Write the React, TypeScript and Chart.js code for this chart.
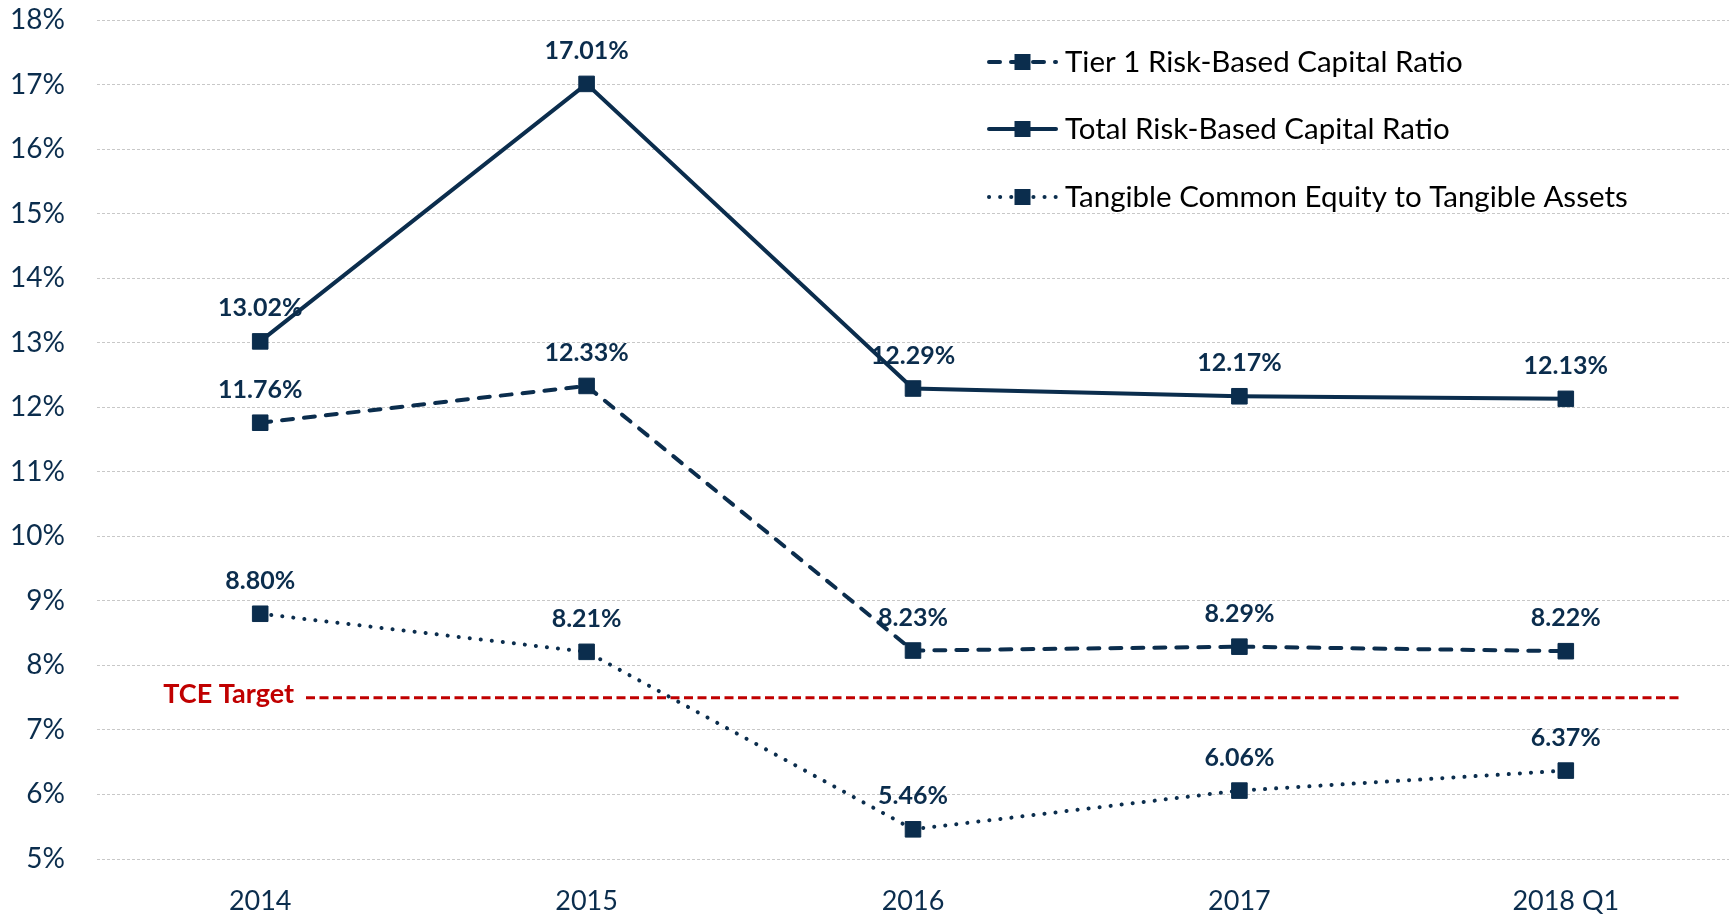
import React, { useEffect, useRef } from "react";
import { Chart, registerables } from "chart.js";

Chart.register(...registerables);

const categories = ["2014", "2015", "2016", "2017", "2018 Q1"];
const tier1 = [11.76, 12.33, 8.23, 8.29, 8.22];
const totalRb = [13.02, 17.01, 12.29, 12.17, 12.13];
const tce = [8.8, 8.21, 5.46, 6.06, 6.37];
const seriesNames = [
  "Tier 1 Risk-Based Capital Ratio",
  "Total Risk-Based Capital Ratio",
  "Tangible Common Equity to Tangible Assets",
];
const tceTarget = 7.5;
const tceTargetLabel = "TCE Target";
const yMin = 5;
const yMax = 18;

const NAVY = "#0b2d4d";
const RED = "#c00000";
const FONT = "Lato, 'Noto Sans', sans-serif";

const dashes: number[][] = [[11, 11], [], [0.1, 11]];

export default function App() {
  const ref = useRef<HTMLCanvasElement | null>(null);

  useEffect(() => {
    document.body.style.margin = "0";
    const canvas = ref.current;
    if (!canvas) return;

    const labelPlugin = {
      id: "valueLabels",
      afterDatasetsDraw(chart: any) {
        const ctx = chart.ctx;
        ctx.save();
        ctx.font = `bold 25px ${FONT}`;
        ctx.fillStyle = NAVY;
        ctx.textAlign = "center";
        ctx.textBaseline = "middle";
        chart.data.datasets.forEach((ds: any, i: number) => {
          const meta = chart.getDatasetMeta(i);
          meta.data.forEach((pt: any, j: number) => {
            const v = ds.data[j] as number;
            ctx.fillText(v.toFixed(2) + "%", pt.x, pt.y - 33);
          });
        });
        ctx.restore();
      },
    };

    const targetPlugin = {
      id: "tceTarget",
      beforeDatasetsDraw(chart: any) {
        const ctx = chart.ctx;
        const y = chart.scales.y.getPixelForValue(tceTarget);
        const { left, right } = chart.chartArea;
        const x0 = left + 209;
        const x1 = right - 49;
        ctx.save();
        ctx.strokeStyle = RED;
        ctx.lineWidth = 3;
        ctx.setLineDash([9, 4.5]);
        ctx.beginPath();
        ctx.moveTo(x0, y);
        ctx.lineTo(x1, y);
        ctx.stroke();
        ctx.setLineDash([]);
        ctx.font = `bold 27px ${FONT}`;
        ctx.fillStyle = RED;
        ctx.textAlign = "right";
        ctx.textBaseline = "middle";
        ctx.fillText(tceTargetLabel, x0 - 12, y - 3);
        ctx.restore();
      },
    };

    const legendPlugin = {
      id: "customLegend",
      afterDraw(chart: any) {
        const ctx = chart.ctx;
        const x0 = 987;
        const x1 = 1058;
        const rows = [62, 129, 197];
        ctx.save();
        chart.data.datasets.forEach((ds: any, i: number) => {
          const y = rows[i];
          ctx.strokeStyle = NAVY;
          ctx.lineWidth = 4;
          ctx.lineCap = "round";
          ctx.setLineDash(dashes[i]);
          ctx.beginPath();
          ctx.moveTo(x0 + 2, y);
          ctx.lineTo(x1 - 2, y);
          ctx.stroke();
          ctx.setLineDash([]);
          ctx.fillStyle = NAVY;
          ctx.fillRect((x0 + x1) / 2 - 8, y - 8, 16, 16);
          ctx.font = `29.5px ${FONT}`;
          ctx.fillStyle = "#000000";
          ctx.textAlign = "left";
          ctx.textBaseline = "middle";
          ctx.fillText(ds.label, x1 + 7, y);
        });
        ctx.restore();
      },
    };

    const mk = (label: string, data: number[], i: number) => ({
      label,
      data,
      borderColor: NAVY,
      backgroundColor: NAVY,
      borderWidth: 4,
      borderDash: dashes[i],
      borderCapStyle: "round" as const,
      pointStyle: "rect" as const,
      pointRadius: 11,
      pointBorderWidth: 1,
      pointBorderColor: NAVY,
      pointBackgroundColor: NAVY,
      tension: 0,
    });

    const chart = new Chart(canvas, {
      type: "line",
      data: {
        labels: categories,
        datasets: [
          mk(seriesNames[0], tier1, 0),
          mk(seriesNames[1], totalRb, 1),
          mk(seriesNames[2], tce, 2),
        ],
      },
      options: {
        animation: false,
        responsive: false,
        layout: { autoPadding: false, padding: { top: 20, right: 4, left: 0, bottom: 0 } },
        plugins: {
          legend: { display: false },
          tooltip: { enabled: false },
        },
        scales: {
          x: {
            offset: true,
            grid: { display: false, drawTicks: false },
            border: { display: false },
            ticks: {
              color: NAVY,
              font: { family: FONT, size: 27 },
              padding: 26,
            },
            afterFit(scale: any) {
              scale.height = 58;
              scale.paddingLeft = 0;
              scale.paddingRight = 0;
            },
          },
          y: {
            min: yMin,
            max: yMax,
            grid: {
              color: "#c8c8c8",
              lineWidth: 1,
              drawTicks: false,
            },
            border: { display: false, dash: [3, 2] },
            ticks: {
              stepSize: 1,
              color: NAVY,
              font: { family: FONT, size: 28 },
              padding: 32,
              callback: (v: any) => `${v}%`,
            },
            afterFit(scale: any) {
              scale.width = 97;
              scale.paddingTop = 0;
              scale.paddingBottom = 0;
            },
          },
        },
      },
      plugins: [targetPlugin, labelPlugin, legendPlugin],
    });

    return () => chart.destroy();
  }, []);

  return (
    <div style={{ width: 1733, height: 917 }}>
      <canvas ref={ref} width={1733} height={917} style={{ display: "block" }} />
    </div>
  );
}
